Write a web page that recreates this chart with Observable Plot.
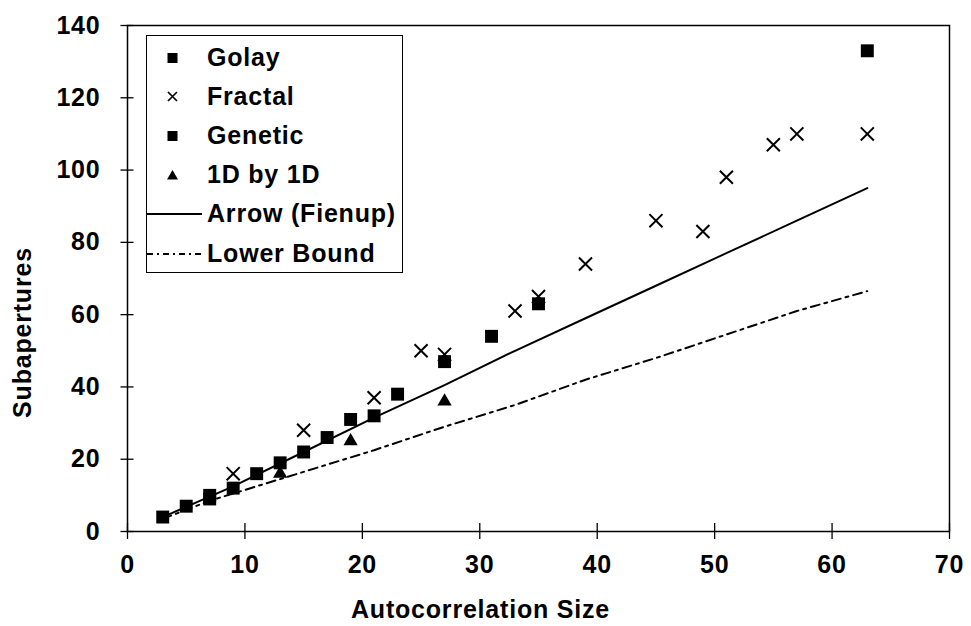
<!DOCTYPE html>
<html>
<head>
<meta charset="utf-8">
<script src="https://cdn.jsdelivr.net/npm/d3@7"></script>
<script src="https://cdn.jsdelivr.net/npm/@observablehq/plot@0.6"></script>
<style>
  body { margin: 0; background: #fff; }
  #chart { position: relative; width: 971px; height: 626px; }
  #chart svg { font-family: "Liberation Sans", Arial, sans-serif; font-size: 25px; font-weight: bold; letter-spacing: 0.8px; color: #000; }
  #legend { position: absolute; left: 146px; top: 35px; width: 255px; height: 236px; border: 1.5px solid #000; background: #fff;
            font-family: "Liberation Sans", Arial, sans-serif; font-size: 25px; font-weight: bold; letter-spacing: 0.8px; }
  .row { position: absolute; left: 0; height: 40px; width: 100%; }
  .row svg { position: absolute; left: 0; top: 0; }
  .row span { position: absolute; left: 60px; top: 50%; transform: translateY(-52%); white-space: nowrap; line-height: 1; }
</style>
</head>
<body>
<div id="chart"><div id="legend"></div></div>
<script>
// Number of subapertures needed for each autocorrelation size, per array design
const golaySize = [3, 7, 15, 21, 27, 35, 63];
const golaySub = [4, 9, 22, 32, 47, 63, 133];

const fractalSize = [9, 15, 21, 25, 27, 33, 35, 39, 45, 49, 51, 55, 57, 63];
const fractalSub = [16, 28, 37, 50, 49, 61, 65, 74, 86, 83, 98, 107, 110, 110];

const geneticSize = [5, 7, 9, 11, 13, 17, 19, 23, 31];
const geneticSub = [7, 10, 12, 16, 19, 26, 31, 38, 54];

const oneDSize = [13, 19, 27];
const oneDSub = [16, 25, 36];

const arrowSize = [3, 9, 15, 21, 27, 33, 39, 45, 51, 57, 63];
const arrowSub = [4, 12.5, 22, 31.5, 40.5, 50, 59, 68, 77, 86, 95];

const lowerSize = [3, 7, 11, 15, 21, 27, 33, 39, 45, 51, 57, 63];
const lowerSub = [3.5, 8.5, 12.5, 16.5, 22.5, 29, 35, 42, 48, 54.5, 61, 66.5];

const xTicks = [0, 10, 20, 30, 40, 50, 60, 70];
const yTicks = [0, 20, 40, 60, 80, 100, 120, 140];

const legendNames = ["Golay", "Fractal", "Genetic", "1D by 1D", "Arrow (Fienup)", "Lower Bound"];
const xTitle = "Autocorrelation Size";
const yTitle = "Subapertures";

const pairs = (xs, ys) => xs.map((x, i) => ({x, y: ys[i]}));
const golay = pairs(golaySize, golaySub);
const fractal = pairs(fractalSize, fractalSub);
const genetic = pairs(geneticSize, geneticSub);
const oneD = pairs(oneDSize, oneDSub);
const arrow = pairs(arrowSize, arrowSub);
const lower = pairs(lowerSize, lowerSub);

const dash = "9,5,3,5";

const chart = Plot.plot({
  width: 971,
  height: 626,
  marginLeft: 127,
  marginRight: 22,
  marginTop: 25,
  marginBottom: 95,
  x: {domain: [0, 70]},
  y: {domain: [0, 140]},
  marks: [
    Plot.frame({stroke: "black", strokeWidth: 1.5}),
    // tick marks crossing the axis lines
    Plot.axisX({ticks: xTicks, tickSize: 16, dy: -8, tickFormat: () => "", label: null, strokeWidth: 1.3}),
    Plot.axisX({ticks: xTicks, tickSize: 0, tickPadding: 24, label: null}),
    Plot.axisY({ticks: yTicks, tickSize: 13, dx: 6.5, tickFormat: () => "", label: null, strokeWidth: 1.3}),
    Plot.axisY({ticks: yTicks, tickSize: 0, tickPadding: 27, label: null}),
    Plot.line(arrow, {x: "x", y: "y", stroke: "black", strokeWidth: 2}),
    Plot.line(lower, {x: "x", y: "y", stroke: "black", strokeWidth: 2, strokeDasharray: dash}),
    Plot.dot(oneD, {x: "x", y: "y", symbol: "triangle", r: 5.3, fill: "black"}),
    Plot.dot(golay, {x: "x", y: "y", symbol: "square", r: 7.3, fill: "black"}),
    Plot.dot(genetic, {x: "x", y: "y", symbol: "square", r: 7.3, fill: "black"}),
    Plot.dot(fractal, {x: "x", y: "y", symbol: "times", r: 6, stroke: "black", strokeWidth: 2}),
    Plot.text([xTitle], {frameAnchor: "bottom", dx: -58, dy: 86}),
    Plot.text([yTitle], {frameAnchor: "left", textAnchor: "middle", lineAnchor: "middle", rotate: -90, dx: -105, dy: 54})
  ]
});

const container = document.getElementById("chart");
container.insertBefore(chart, container.firstChild);

// Legend box drawn over the top-left corner of the plot area
const legend = d3.select("#legend");
const symbols = [
  g => g.append("rect").attr("x", 20.5).attr("y", 15).attr("width", 10).attr("height", 10).attr("fill", "black"),
  g => g.append("path").attr("d", "M21,15L30,24M30,15L21,24").attr("stroke", "black").attr("stroke-width", 1.7),
  g => g.append("rect").attr("x", 20.5).attr("y", 15).attr("width", 10).attr("height", 10).attr("fill", "black"),
  g => g.append("path").attr("d", "M25.5,15L31,24.5L20,24.5Z").attr("fill", "black"),
  g => g.append("line").attr("x1", 0).attr("x2", 55).attr("y1", 20).attr("y2", 20).attr("stroke", "black").attr("stroke-width", 1.8),
  g => g.append("line").attr("x1", 0).attr("x2", 55).attr("y1", 20).attr("y2", 20).attr("stroke", "black").attr("stroke-width", 1.8).attr("stroke-dasharray", "6,4,2,4")
];
legendNames.forEach((name, i) => {
  const row = legend.append("div").attr("class", "row").style("top", `${1.5 + i * 39.2}px`);
  const svg = row.append("svg").attr("width", 60).attr("height", 40);
  symbols[i](svg);
  row.append("span").text(name);
});
</script>
</body>
</html>
